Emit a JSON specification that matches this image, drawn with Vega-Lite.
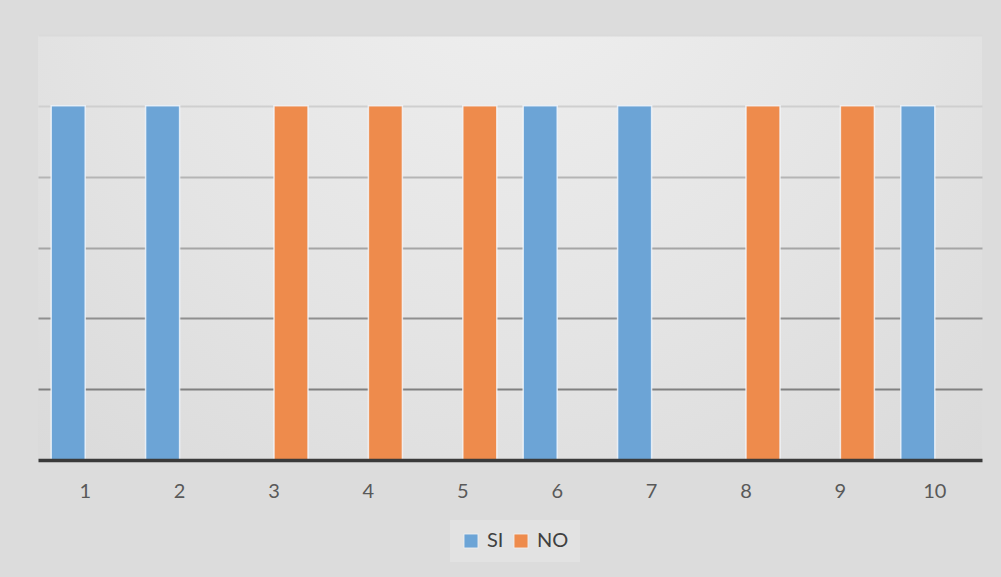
{
  "$schema": "https://vega.github.io/schema/vega-lite/v6.json",
  "autosize": {"type": "none"},
  "padding": {"left": 38, "top": 35, "right": 19, "bottom": 117},
  "width": 944,
  "height": 425,
  "background": "#dcdcdc",
  "config": {
    "view": {
      "stroke": null,
      "fill": {
        "gradient": "radial",
        "x1": 0.5, "y1": 0.15, "r1": 0,
        "x2": 0.5, "y2": 0.15, "r2": 1,
        "stops": [
          {"offset": 0, "color": "#f0f0f0"},
          {"offset": 0.45, "color": "#e4e4e4"},
          {"offset": 1, "color": "#d2d2d2"}
        ]
      }
    },
    "font": "Lato"
  },
  "data": {
    "values": [
      {"cat": "1", "serie": "SI", "value": 5}, {"cat": "1", "serie": "NO", "value": 0},
      {"cat": "2", "serie": "SI", "value": 5}, {"cat": "2", "serie": "NO", "value": 0},
      {"cat": "3", "serie": "SI", "value": 0}, {"cat": "3", "serie": "NO", "value": 5},
      {"cat": "4", "serie": "SI", "value": 0}, {"cat": "4", "serie": "NO", "value": 5},
      {"cat": "5", "serie": "SI", "value": 0}, {"cat": "5", "serie": "NO", "value": 5},
      {"cat": "6", "serie": "SI", "value": 5}, {"cat": "6", "serie": "NO", "value": 0},
      {"cat": "7", "serie": "SI", "value": 5}, {"cat": "7", "serie": "NO", "value": 0},
      {"cat": "8", "serie": "SI", "value": 0}, {"cat": "8", "serie": "NO", "value": 5},
      {"cat": "9", "serie": "SI", "value": 0}, {"cat": "9", "serie": "NO", "value": 5},
      {"cat": "10", "serie": "SI", "value": 5}, {"cat": "10", "serie": "NO", "value": 0}
    ]
  },
  "mark": {"type": "bar", "stroke": "#f4f8fc", "strokeWidth": 1.5, "strokeOpacity": 0.8},
  "encoding": {
    "x": {
      "field": "cat", "type": "ordinal", "sort": null,
      "scale": {"paddingInner": 0, "paddingOuter": 0},
      "axis": {
        "title": null, "labelAngle": 0, "ticks": false,
        "domainColor": "#3a3a3a", "domainWidth": 3.5,
        "labelFontSize": 20, "labelColor": "#595959", "labelPadding": 31,
        "labelBaseline": "middle",
        "zindex": 1
      }
    },
    "xOffset": {
      "field": "serie", "type": "nominal",
      "scale": {"domain": ["SI", "NO"], "paddingInner": 0, "paddingOuter": 0.388}
    },
    "y": {
      "field": "value", "type": "quantitative",
      "scale": {"domain": [0, 6], "nice": false},
      "axis": {
        "title": null, "labels": false, "ticks": false, "domain": false,
        "values": [1, 2, 3, 4, 5, 6],
        "gridWidth": 2,
        "gridColor": {
          "condition": [
            {"test": "datum.value == 6", "value": "#dadada"},
            {"test": "datum.value == 5", "value": "#cfcfcf"},
            {"test": "datum.value == 4", "value": "#b5b5b5"},
            {"test": "datum.value == 3", "value": "#a5a5a5"},
            {"test": "datum.value == 2", "value": "#8f8f8f"}
          ],
          "value": "#808080"
        }
      }
    },
    "color": {
      "field": "serie", "type": "nominal",
      "scale": {"domain": ["SI", "NO"], "range": ["#6ca4d6", "#ee8b4c"]},
      "legend": {
        "title": null, "orient": "none", "direction": "horizontal",
        "legendX": 412, "legendY": 485,
        "fillColor": "#e2e2e2", "padding": 11,
        "symbolType": "square", "symbolSize": 200, "symbolStrokeWidth": 1, "symbolStrokeColor": "#f0f0f0",
        "labelFontSize": 20, "labelColor": "#404040", "labelOffset": 6,
        "columnPadding": 7
      }
    }
  }
}
